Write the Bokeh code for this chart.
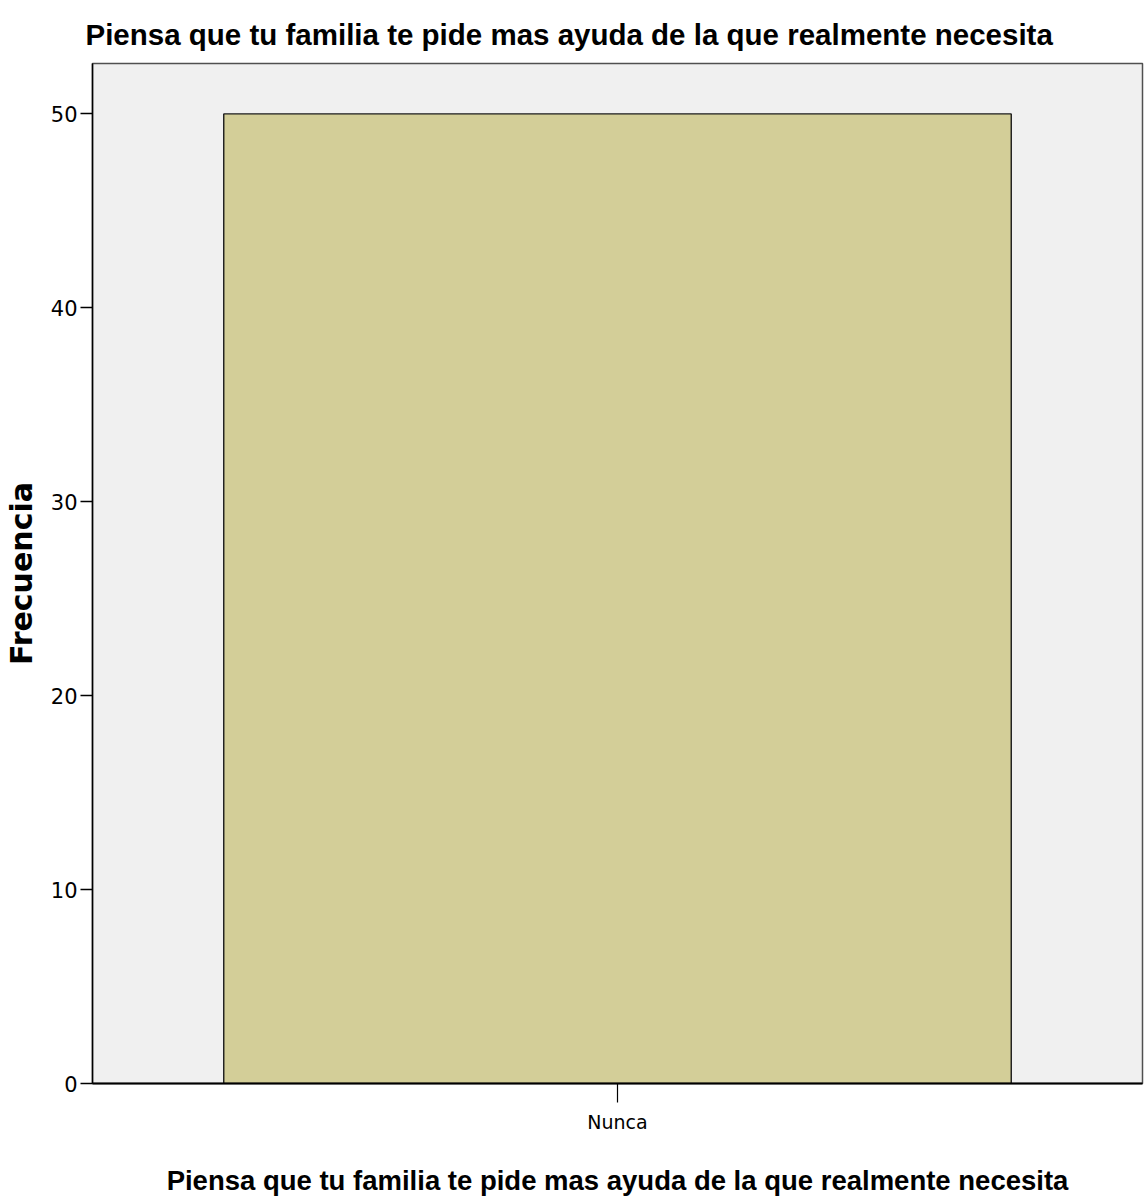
from bokeh.plotting import figure
from bokeh.models import FixedTicker, Range1d, FactorRange
from bokeh.embed import file_html
from bokeh.resources import INLINE

title_text = "Piensa que tu familia te pide mas ayuda de la que realmente necesita"
categories = ["Nunca"]
counts = [50]
y_ticks = [0, 10, 20, 30, 40, 50]

BOLDFONT = "'Liberation Sans', sans-serif"
TICKFONT = "'DejaVu Sans', sans-serif"

p = figure(
    x_range=FactorRange(*categories, range_padding=0),
    y_range=Range1d(0, 52.6),
    width=1145, height=1203,
    min_border_left=92, min_border_right=3, min_border_top=63, min_border_bottom=120,
    output_backend="svg", toolbar_location=None,
)

p.vbar(x=categories, top=counts, width=0.75, fill_color="#D3CE98",
       line_color="#1a1a1a", line_width=1.4)

p.background_fill_color = "#F0F0F0"
p.border_fill_color = "white"
p.outline_line_color = "#505050"
p.outline_line_width = 1.5
p.xgrid.visible = False
p.ygrid.visible = False

p.title.text = title_text
p.title.text_font = BOLDFONT
p.title.text_font_size = "29.5px"
p.title.text_font_style = "bold"
p.title.align = "left"
p.title.offset = -7
p.title.standoff = 25
p.title.text_color = "black"

ya = p.yaxis[0]
ya.ticker = FixedTicker(ticks=y_ticks)
ya.axis_label = "Frecuencia"
ya.axis_label_text_font = "'DejaVu Sans', sans-serif"
ya.axis_label_text_font_style = "bold"
ya.axis_label_text_font_size = "30px"
ya.axis_label_text_color = "black"
ya.axis_label_standoff = 9
ya.major_label_text_font = TICKFONT
ya.major_label_text_font_size = "21px"
ya.major_label_text_color = "black"
ya.major_label_standoff = 3
ya.major_tick_out = 12
ya.major_tick_in = 0
ya.minor_tick_out = 0
ya.minor_tick_in = 0
ya.axis_line_color = "black"
ya.axis_line_width = 1.5
ya.major_tick_line_width = 1.5

xa = p.xaxis[0]
xa.axis_label = title_text
xa.axis_label_text_font = BOLDFONT
xa.axis_label_text_font_style = "bold"
xa.axis_label_text_font_size = "27.5px"
xa.axis_label_text_color = "black"
xa.axis_label_standoff = 29
xa.major_label_text_font = TICKFONT
xa.major_label_text_font_size = "19px"
xa.major_label_text_color = "black"
xa.major_label_standoff = 8
xa.major_tick_out = 19
xa.major_tick_in = 0
xa.axis_line_color = "black"
xa.axis_line_width = 2
xa.major_tick_line_width = 1.2

open("out.html", "w").write(file_html(p, INLINE))
